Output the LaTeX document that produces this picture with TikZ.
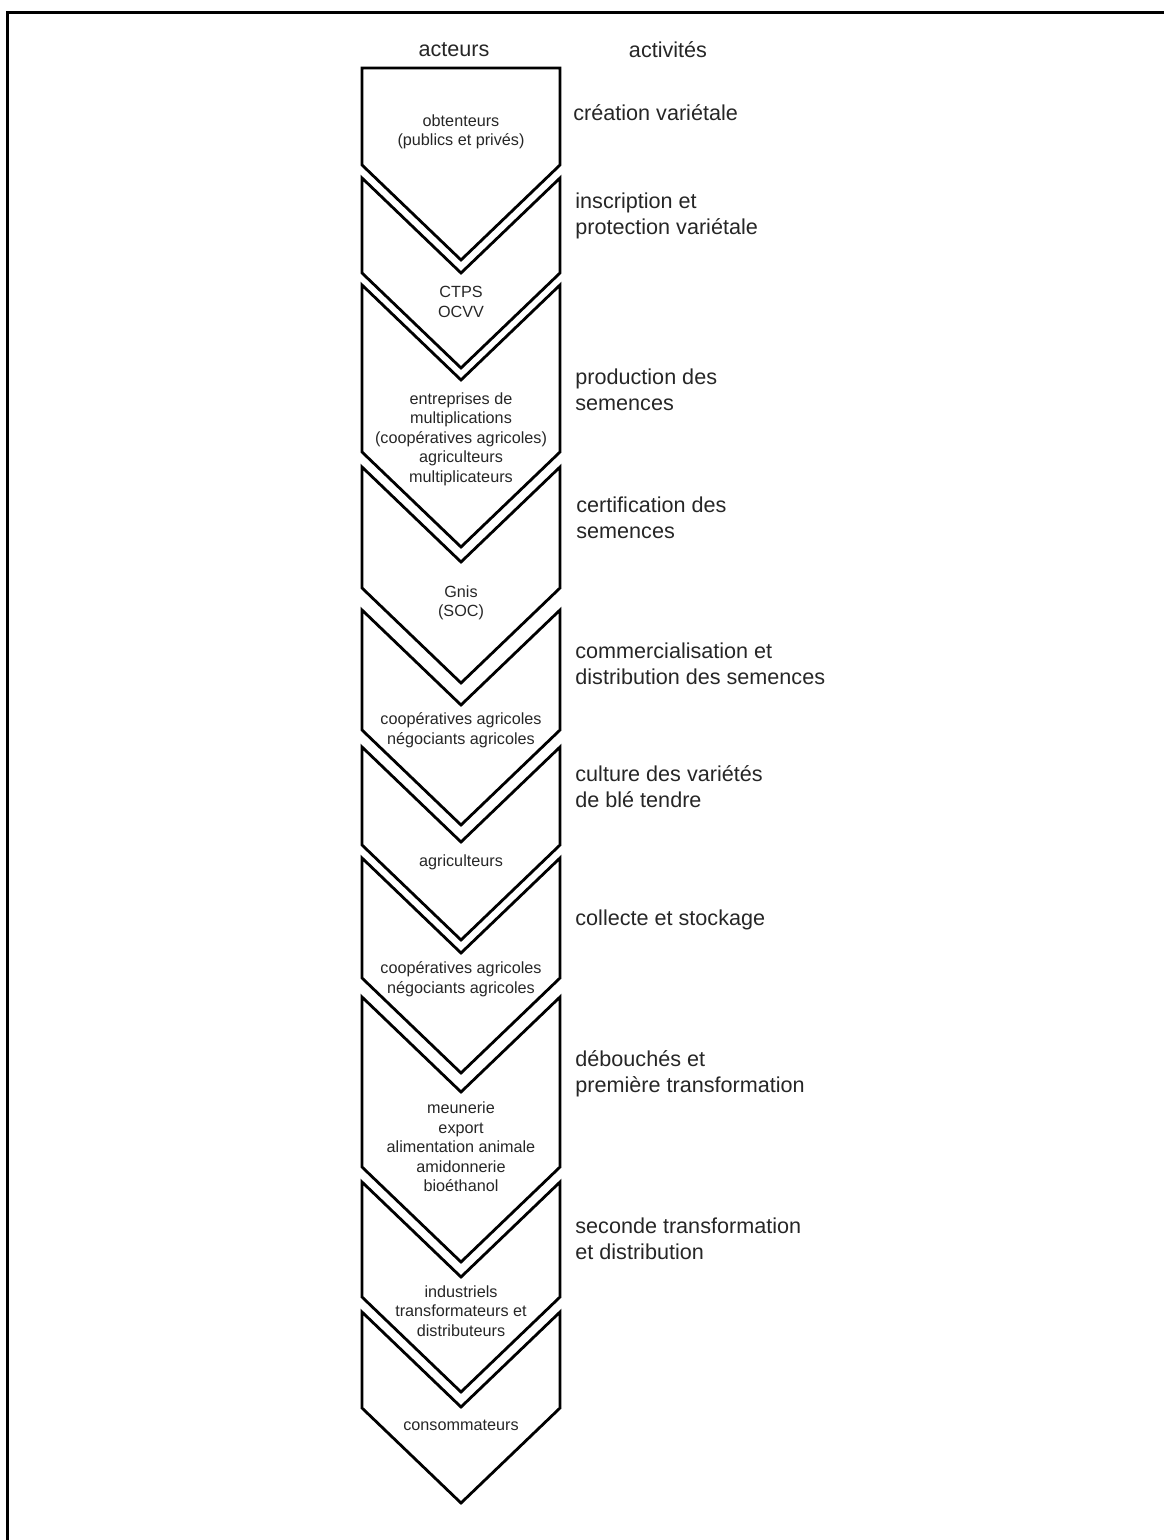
\documentclass[tikz,border=0pt]{standalone}
\usepackage{fontspec}
\setmainfont{Liberation Sans}
\usetikzlibrary{positioning}

\begin{document}
\begin{tikzpicture}[x=0.5pt,y=-0.5pt,
    chev/.style={line width=1.4pt,line join=miter},
    actor/.style={inner sep=0pt,align=center,text=black!85,
      font=\fontsize{8.1}{9.75}\selectfont},
    activ/.style={inner sep=0pt,anchor=west,align=left,text=black!85,
      font=\fontsize{10.8}{13}\selectfont}]
      \useasboundingbox (0,0) rectangle (1164,1540);
      \draw[line width=1.5pt] (7,1540) -- (7,13) -- (1164,13);
      % chevrons
      \draw[chev] (362,68) -- (560,68) -- (560,165) -- ++(-99,95) -- ++(-99,-95) -- cycle;
      \foreach \t/\b in {178/273,285/452,467/588,610/730,747/845,858/978,997/1167,1182/1297,1312/1408}
        \draw[chev] (362,\t) -- ++(99,95) -- ++(99,-95) -- (560,\b) -- ++(-99,95) -- ++(-99,-95) -- cycle;
      % headers
      \path (454,50) node[activ,anchor=center] (act) {acteurs};
      \path (668,50) node[activ,anchor=center] (acv) {activités};
      % acteurs
      \path (461,132) node[actor] (obt) {obtenteurs\\(publics et privés)};
      \path (461,302) node[actor] (ctps) {CTPS\\OCVV};
      \path (461,439) node[actor] (mult) {entreprises de\\multiplications\\(coopératives agricoles)\\agriculteurs\\multiplicateurs};
      \path (461,603) node[actor] (gnis) {Gnis\\(SOC)};
      \path (461,730) node[actor] (coop) {coopératives agricoles\\négociants agricoles};
      \path (461,862) node[actor] (agri) {agriculteurs};
      \path (461,979) node[actor] (coll) {coopératives agricoles\\négociants agricoles};
      \path (461,1147) node[actor] (debou) {meunerie\\export\\alimentation animale\\amidonnerie\\bioéthanol};
      \path (461,1311) node[actor] (indus) {industriels\\transformateurs et\\distributeurs};
      \path (461,1425) node[actor] (conso) {consommateurs};
      % activites
      \path (573,113) node[activ] (crea) {création variétale};
      \path (575,216) node[activ] (insc) {inscription et\\protection variétale};
      \path (575,390) node[activ] (prod) {production des\\semences};
      \path (576,518) node[activ] (cert) {certification des\\semences};
      \path (575,664) node[activ] (comm) {commercialisation et\\distribution des semences};
      \path (575,787) node[activ] (cult) {culture des variétés\\de blé tendre};
      \path (575,920) node[activ] (stock) {collecte et stockage};
      \path (575,1074) node[activ] (trans) {débouchés et\\première transformation};
      \path (575,1239) node[activ] (dist) {seconde transformation\\et distribution};
    \end{tikzpicture}
\end{document}
